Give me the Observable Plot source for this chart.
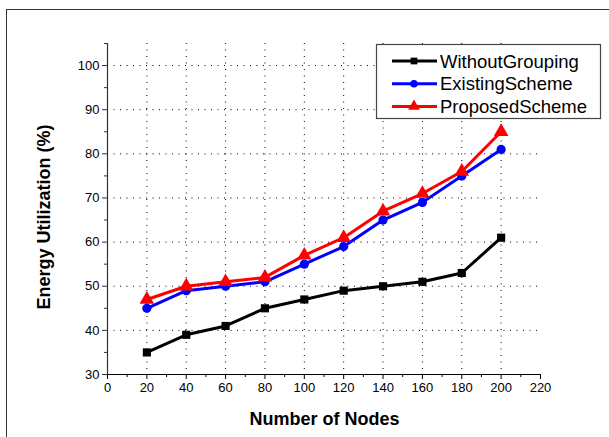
<!DOCTYPE html>
<html>
<head>
<meta charset="utf-8">
<script src="https://cdn.jsdelivr.net/npm/d3@7"></script>
<script src="https://cdn.jsdelivr.net/npm/@observablehq/plot@0.6"></script>
<style>
  html, body { margin: 0; padding: 0; background: #fff; }
  #chart { position: relative; width: 609px; height: 437px; overflow: hidden; }
</style>
</head>
<body>
<div id="chart"></div>
<script>
const nodes = [20, 40, 60, 80, 100, 120, 140, 160, 180, 200];
const withoutGrouping = [35, 39, 41, 45, 47, 49, 50, 51, 53, 61];
const existingScheme = [45, 49, 50, 51, 55, 59, 65, 69, 75, 81];
const proposedScheme = [47, 50, 51, 52, 57, 61, 67, 71, 76, 85];

const seriesNames = ["WithoutGrouping", "ExistingScheme", "ProposedScheme"];
const seriesColors = ["#000000", "#0000ff", "#ff0000"];
const seriesSymbols = ["square", "circle", "triangle"];
const seriesValues = [withoutGrouping, existingScheme, proposedScheme];

const xMajor = [0, 20, 40, 60, 80, 100, 120, 140, 160, 180, 200, 220];
const xMinor = [10, 30, 50, 70, 90, 110, 130, 150, 170, 190, 210];
const yMajor = [30, 40, 50, 60, 70, 80, 90, 100];
const yMinor = [35, 45, 55, 65, 75, 85, 95, 105];
const xGrid = [20, 40, 60, 80, 100, 120, 140, 160, 180, 200];
const yGrid = [40, 50, 60, 70, 80, 90, 100];

const data = [];
seriesNames.forEach((name, i) => {
  nodes.forEach((n, j) => data.push({series: name, x: n, y: seriesValues[i][j]}));
});

const font = "Liberation Sans, Arial, sans-serif";
const dotted = {stroke: "#000", strokeOpacity: 1, strokeWidth: 1, strokeDasharray: "1,5.5"};

const marks = [
  Plot.ruleX(xGrid, {...dotted}),
  Plot.ruleY(yGrid, {...dotted, x1: 0, x2: 219}),
  Plot.ruleY([30], {stroke: "#000", strokeWidth: 1.2}),
  Plot.ruleX([0], {stroke: "#333", strokeWidth: 1.2}),
  Plot.axisX({ticks: xMajor, tickSize: 5, tickPadding: 3, fontSize: 13, label: null, tickFormat: d => d, stroke: "#000"}),
  Plot.axisX({ticks: xMinor, tickSize: 3, text: null, label: null, stroke: "#000"}),
  Plot.axisY({ticks: yMajor, tickSize: 5, tickPadding: 3, fontSize: 13, label: null, tickFormat: d => d, stroke: "#333"}),
  Plot.axisY({ticks: yMinor, tickSize: 3, text: null, label: null, stroke: "#333"})
];

seriesNames.forEach((name, i) => {
  const d = data.filter(r => r.series === name);
  marks.push(Plot.line(d, {x: "x", y: "y", stroke: seriesColors[i], strokeWidth: 3}));
  marks.push(Plot.dot(d, {x: "x", y: "y", fill: seriesColors[i], stroke: "none",
    symbol: () => seriesSymbols[i], r: seriesSymbols[i] === "triangle" ? 5.4 : 4.6}));
});

const plot = Plot.plot({
  width: 609,
  height: 437,
  marginLeft: 107,
  marginRight: 69,
  marginTop: 43,
  marginBottom: 63,
  style: {fontFamily: font, color: "#000", background: "#fff", overflow: "visible"},
  x: {domain: [0, 220]},
  y: {domain: [30, 105]},
  marks
});

document.getElementById("chart").appendChild(plot);

const svg = d3.select(plot);
// outer frame (top & left)
svg.append("line").attr("x1", 6).attr("x2", 609).attr("y1", 9.5).attr("y2", 9.5)
  .attr("stroke", "#333").attr("stroke-width", 1);
svg.append("line").attr("x1", 6.5).attr("x2", 6.5).attr("y1", 9).attr("y2", 437)
  .attr("stroke", "#333").attr("stroke-width", 1);

// axis titles
svg.append("text").attr("x", 324.5).attr("y", 425).attr("text-anchor", "middle")
  .attr("font-family", font).attr("font-weight", "bold").attr("font-size", 18)
  .attr("fill", "#000").text("Number of Nodes");
svg.append("text").attr("transform", "translate(50,217) rotate(-90)").attr("text-anchor", "middle")
  .attr("font-family", font).attr("font-weight", "bold").attr("font-size", 18)
  .attr("fill", "#000").text("Energy Utilization (%)");

// legend
const lg = svg.append("g");
lg.append("rect").attr("x", 376.5).attr("y", 44.5).attr("width", 224).attr("height", 74)
  .attr("fill", "#fff").attr("stroke", "#444").attr("stroke-width", 1.2);
seriesNames.forEach((name, i) => {
  const cy = 61 + i * 22.7;
  lg.append("line").attr("x1", 392).attr("x2", 437).attr("y1", cy).attr("y2", cy)
    .attr("stroke", seriesColors[i]).attr("stroke-width", 3);
  const sym = {square: d3.symbolSquare, circle: d3.symbolCircle, triangle: d3.symbolTriangle}[seriesSymbols[i]];
  const size = seriesSymbols[i] === "triangle" ? 60 : 45;
  lg.append("path").attr("d", d3.symbol(sym, size)()).attr("transform", `translate(414,${cy})`)
    .attr("fill", seriesColors[i]);
  lg.append("text").attr("x", 440).attr("y", cy + 6.5).attr("text-anchor", "start")
    .attr("font-family", font).attr("font-size", 18.5).attr("fill", "#000").text(name);
});
</script>
</body>
</html>
